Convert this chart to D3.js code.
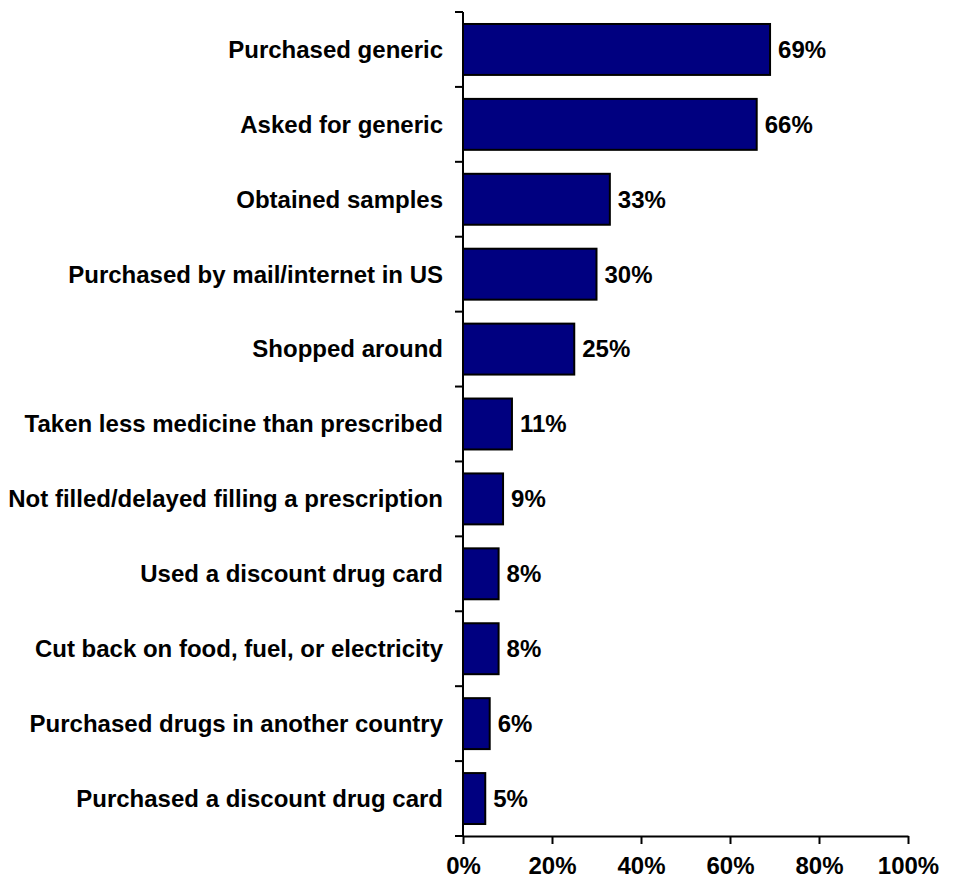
<!DOCTYPE html>
<html>
<head>
<meta charset="utf-8">
<script src="https://cdn.jsdelivr.net/npm/d3@7/dist/d3.min.js"></script>
<style>
  html, body { margin: 0; padding: 0; background: #fff; }
  svg { display: block; }
  text { font-family: "Liberation Sans", Arial, sans-serif; font-weight: bold; font-size: 24px; fill: #000; }
</style>
</head>
<body>
<svg id="chart" width="953" height="882"></svg>
<script>
const categories = [
  "Purchased generic",
  "Asked for generic",
  "Obtained samples",
  "Purchased by mail/internet in US",
  "Shopped around",
  "Taken less medicine than prescribed",
  "Not filled/delayed filling a prescription",
  "Used a discount drug card",
  "Cut back on food, fuel, or electricity",
  "Purchased drugs in another country",
  "Purchased a discount drug card"
];
const values = [69, 66, 33, 30, 25, 11, 9, 8, 8, 6, 5];
const tickValues = [0, 20, 40, 60, 80, 100];
const tickLabels = ["0%", "20%", "40%", "60%", "80%", "100%"];

const svg = d3.select("#chart");
const x0 = 463, x1 = 908, yTop = 12, yBottom = 836;

const x = d3.scaleLinear().domain([0, 100]).range([x0, x1]);
const y = d3.scaleBand().domain(categories).range([yTop, yBottom]).paddingInner(0.32).paddingOuter(0.16);
const yBand = d3.scaleBand().domain(categories).range([yTop, yBottom]).padding(0);

// bars
svg.append("g").selectAll("rect").data(values).join("rect")
  .attr("x", x(0))
  .attr("y", (d, i) => y(categories[i]))
  .attr("width", d => x(d) - x(0))
  .attr("height", y.bandwidth())
  .attr("fill", "#000080")
  .attr("stroke", "#000")
  .attr("stroke-width", 2);

// value labels
svg.append("g").selectAll("text").data(values).join("text")
  .attr("x", d => x(d) + 8)
  .attr("y", (d, i) => yBand(categories[i]) + yBand.bandwidth() / 2)
  .attr("dy", "0.35em")
  .text(d => d + "%");

// y axis: line + ticks at band boundaries
const yAxisG = svg.append("g");
yAxisG.append("line")
  .attr("x1", x0).attr("x2", x0)
  .attr("y1", yTop).attr("y2", yBottom)
  .attr("stroke", "#000").attr("stroke-width", 2);
const boundaries = categories.map(c => yBand(c)).concat([yBottom]);
yAxisG.selectAll("line.tick").data(boundaries).join("line")
  .attr("class", "tick")
  .attr("x1", x0 - 8).attr("x2", x0)
  .attr("y1", d => d).attr("y2", d => d)
  .attr("stroke", "#000").attr("stroke-width", 2);

// category labels
svg.append("g").selectAll("text").data(categories).join("text")
  .attr("x", x0 - 20)
  .attr("y", d => yBand(d) + yBand.bandwidth() / 2)
  .attr("dy", "0.35em")
  .attr("text-anchor", "end")
  .text(d => d);

// x axis
const xAxis = d3.axisBottom(x)
  .tickValues(tickValues)
  .tickFormat((d, i) => tickLabels[i])
  .tickSize(8)
  .tickSizeOuter(0)
  .tickPadding(13);
const xg = svg.append("g").attr("transform", `translate(0,${yBottom})`).call(xAxis);
xg.select(".domain").attr("stroke", "#000").attr("stroke-width", 2);
xg.selectAll(".tick line").attr("stroke", "#000").attr("stroke-width", 2);
xg.selectAll(".tick text")
  .style("font-family", '"Liberation Sans", Arial, sans-serif')
  .style("font-weight", "bold")
  .style("font-size", "24px")
  .attr("fill", "#000");
</script>
</body>
</html>
